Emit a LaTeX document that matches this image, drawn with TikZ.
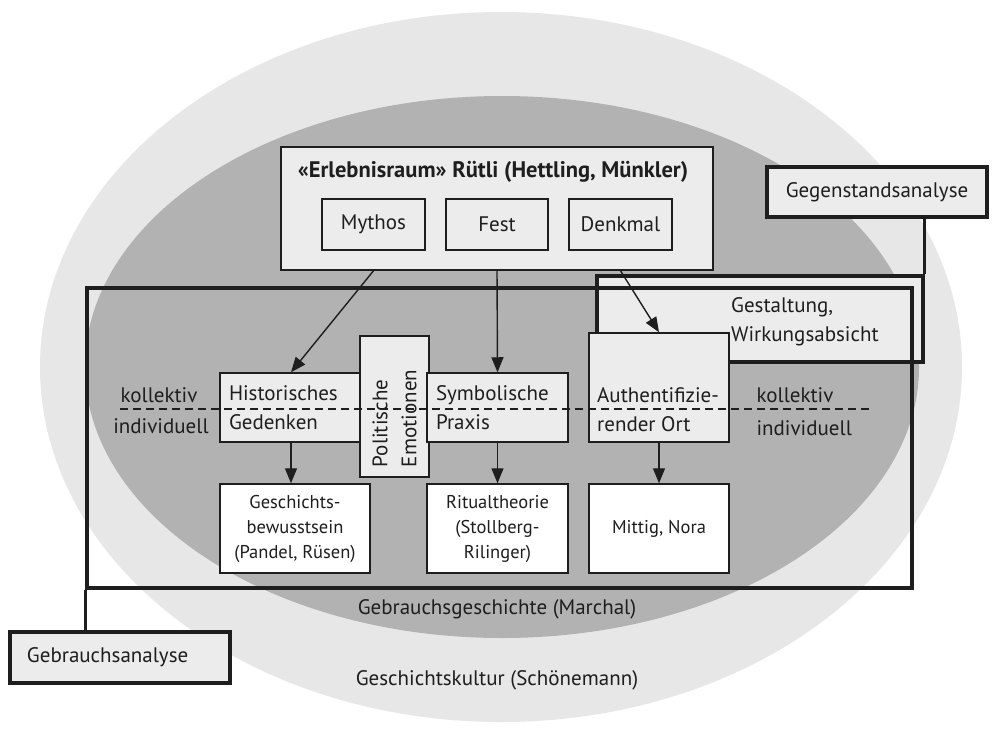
\documentclass[tikz,border=0pt]{standalone}
\usepackage{fontspec}
\setmainfont{PT Sans}
\usetikzlibrary{arrows.meta}
\definecolor{outerc}{HTML}{E7E7E7}
\definecolor{innerc}{HTML}{B2B2B2}
\definecolor{boxc}{HTML}{ECECEC}
\definecolor{ink}{HTML}{1E1E1E}
\begin{document}
\begin{tikzpicture}[x=1pt,y=-1pt,
  every node/.style={text=ink, font=\fontsize{21}{29}\selectfont},
  thinbox/.style={draw=ink, fill=boxc, line width=1.5pt, inner sep=0pt},
  whitebox/.style={draw=ink, fill=white, line width=1.5pt, inner sep=0pt, align=center, font=\fontsize{18.5}{25}\selectfont},
  thickbox/.style={draw=ink, line width=3.2pt, inner sep=0pt},
  txt/.style={inner sep=0pt, align=left},
  arr/.style={draw=ink, line width=1.4pt, -{Triangle[length=15pt,width=12pt]}},
  conn/.style={draw=ink, line width=3.2pt}
]
\useasboundingbox (0,0) rectangle (1000,734);
\fill[white] (0,0) rectangle (1000,734);
\fill[outerc] (501,367) ellipse [x radius=461, y radius=355];
\fill[innerc] (502,367) ellipse [x radius=417, y radius=271];

% top box
\node[thinbox, minimum width=432, minimum height=123] (erl) at (497,208.5) {};
\node[txt, font=\fontsize{22.5}{26}\selectfont\bfseries] (title) at (493,172) {«Erlebnisraum» Rütli (Hettling, Münkler)};
\node[thinbox, minimum width=103, minimum height=51] (mythos) at (373.5,224.5) {Mythos};
\node[thinbox, minimum width=102, minimum height=51] (fest) at (497,224.5) {Fest};
\node[thinbox, minimum width=103, minimum height=51] (denk) at (620.5,224.5) {Denkmal};

% Gegenstandsanalyse
\node[thickbox, fill=boxc, minimum width=220, minimum height=50] (gegen) at (877,192) {Gegenstandsanalyse};
\node[thickbox, fill=boxc, minimum width=326, minimum height=86] (gest) at (760,319) {};
\node[txt, anchor=west] (gesttxt) at (731,322) {Gestaltung,\\Wirkungsabsicht};
\draw[conn] (gegen.south -| gest.east) -- (gest.north east);

% Gebrauchsanalyse
\node[thickbox, minimum width=825, minimum height=300] (gebr) at (499.5,438) {};
\node[thickbox, fill=boxc, minimum width=220, minimum height=51, text width=186, align=left] (gebrlab) at (120,657.5) {Gebrauchsanalyse};
\draw[conn] (gebr.south west) -- (gebrlab.north -| gebr.west);

% middle boxes
\node[thinbox, minimum width=142, minimum height=69, text width=124, align=left] (hist) at (291,407.5) {Historisches\\Gedenken};
\node[thinbox, rotate=90, minimum width=141, minimum height=69, text width=121, align=left] (pol) at (394.5,406.5) {Politische\\Emotionen};
\node[thinbox, minimum width=141, minimum height=69, text width=123, align=left] (sym) at (497.5,407.5) {Symbolische\\Praxis};
\node[thinbox, minimum width=140, minimum height=109] (auth) at (659,387.5) {};
\node[txt, anchor=west] (authtxt) at (597,409.5) {Authentifizie-\\render Ort};

% bottom boxes
\node[whitebox, minimum width=150, minimum height=89] (gb) at (295,528.5) {Geschichts-\\bewusstsein\\(Pandel, Rüsen)};
\node[whitebox, minimum width=141, minimum height=89] (rit) at (497.5,528.5) {Ritualtheorie\\(Stollberg-\\Rilinger)};
\node[whitebox, minimum width=140, minimum height=89] (mit) at (659,528.5) {Mittig, Nora};

% arrows
\draw[arr] (mythos |- erl.south) -- (hist.north);
\draw[arr] (fest |- erl.south) -- (sym.north);
\draw[arr] (denk |- erl.south) -- (auth.north);
\draw[arr] (hist.south) -- (hist.south |- gb.north);
\draw[arr] (sym.south) -- (sym.south |- rit.north);
\draw[arr] (auth.south) -- (auth.south |- mit.north);

% dashed divider
\coordinate (dl) at (120,409);
\coordinate (dr) at (870,409);
\draw[ink, line width=1.1pt, dash pattern=on 8pt off 5pt] (dl) -- (dr);

% side labels
\node (kl) at (159,395) {kollektiv};
\node (il) at (161,426) {individuell};
\node[anchor=west] (kr) at (753,395) {kollektiv};
\node[anchor=west] (ir) at (753,428) {individuell};

% ellipse labels
\node (gg) at (497,609) {Gebrauchsgeschichte (Marchal)};
\node (gk) at (497,680) {Geschichtskultur (Schönemann)};
\end{tikzpicture}
\end{document}
